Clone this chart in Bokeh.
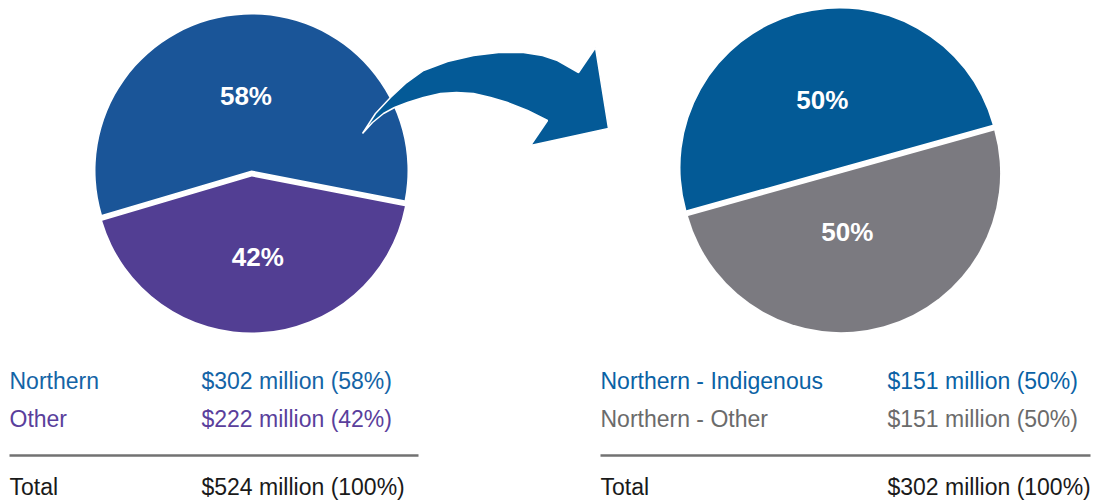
import numpy as np
from bokeh.plotting import figure
from bokeh.models import ColumnDataSource, Range1d
from bokeh.core.properties import value
from bokeh.embed import file_html
from bokeh.resources import INLINE

# ---------------- data ----------------
regions = ["Northern", "Other"]
region_values = [302, 222]
northern_groups = ["Northern - Indigenous", "Northern - Other"]
northern_values = [151, 151]
unit_label = "million"

# ---------------- style ----------------
left_colors = ["#1a5598", "#523e93"]
right_colors = ["#035a96", "#7b7a80"]
left_text_colors = ["#1464a6", "#5a3f9c"]
right_text_colors = ["#0a62a5", "#6b6b6b"]
total_color = "#1a1a1a"
rule_color = "#727272"
arrow_color = "#045a97"
FONT = "Liberation Sans"

W, H = 1094, 500


def Y(py):
    """picture y (downwards) -> data y (upwards)"""
    return H - py


p = figure(width=W, height=H, x_range=Range1d(0, W), y_range=Range1d(0, H),
           output_backend="svg", toolbar_location=None, min_border=0)
p.axis.visible = False
p.grid.visible = False
p.outline_line_color = None
p.background_fill_color = "white"
p.border_fill_color = "white"


def draw_pie(vals, colors, cx, cy, r, start_deg, explode, label_fracs, label_rot):
    vals = np.asarray(vals, dtype=float)
    total = vals.sum()
    cum = np.concatenate([[0], np.cumsum(vals) / total]) * 360.0
    starts = np.radians(start_deg + cum[:-1])
    ends = np.radians(start_deg + cum[1:])
    mids = (starts + ends) / 2
    xs = cx + np.asarray(explode) * np.cos(mids)
    ys = Y(cy) + np.asarray(explode) * np.sin(mids)
    src = ColumnDataSource(dict(x=xs, y=ys, s=starts, e=ends, c=colors))
    p.wedge(x="x", y="y", radius=r, start_angle="s", end_angle="e",
            fill_color="c", line_color=None, source=src)
    la = mids + np.radians(label_rot)
    lx = xs + np.asarray(label_fracs) * r * np.cos(la)
    ly = ys + np.asarray(label_fracs) * r * np.sin(la)
    labels = [f"{round(100 * v / total)}%" for v in vals]
    p.text(x=lx, y=ly, text=labels, text_color="white", text_font=value(FONT),
           text_font_style="bold", text_font_size="26px",
           text_align="center", text_baseline="middle")


def draw_table(names, vals, colors, x_name, x_val, x_end, row_ys, rule_y, total_y):
    total = sum(vals)
    vtexts = [f"${v} {unit_label} ({round(100 * v / total)}%)" for v in vals]
    ys = [Y(y) for y in row_ys]
    fs = "23px"
    p.text(x=[x_name] * len(names), y=ys, text=names, text_color=colors,
           text_font=value(FONT), text_font_size=fs,
           text_align="left", text_baseline="middle")
    p.text(x=[x_val] * len(vals), y=ys, text=vtexts, text_color=colors,
           text_font=value(FONT), text_font_size=fs,
           text_align="left", text_baseline="middle")
    p.line(x=[x_name, x_end], y=[Y(rule_y), Y(rule_y)], line_color=rule_color, line_width=2.5)
    p.text(x=[x_name, x_val], y=[Y(total_y)] * 2,
           text=["Total", f"${total} {unit_label} (100%)"], text_color=total_color,
           text_font=value(FONT), text_font_size=fs,
           text_align="left", text_baseline="middle")


# left pie: all regions
draw_pie(region_values, left_colors, 251, 170, 156, -11, [0, 6], [0.48, 0.52], [1.5, 1.5])
# right pie: northern split
draw_pie(northern_values, right_colors, 839, 167, 159, 15.6, [0, 6], [0.44, 0.37], [-1.4, -9.5])

# curved arrow (decoration, picture coordinates)
arrow_pts = [(362, 133), (375, 113), (390, 97), (405, 83), (423, 70), (447, 61), (473, 55),
             (498, 52), (523, 52), (542, 55), (557, 60), (578, 72), (595, 47), (608, 128),
             (530, 145), (547, 120), (527, 110), (507, 102), (490, 97), (473, 93), (456, 92),
             (440, 93), (423, 97), (407, 102), (394, 107), (383, 113), (372, 122)]
p.patch(x=[a for a, b in arrow_pts], y=[Y(b) for a, b in arrow_pts],
        fill_color=arrow_color, line_color="white", line_width=1.5)

# tables
draw_table(regions, region_values, left_text_colors, 9, 201, 418, [380, 418.5], 455, 486.5)
draw_table(northern_groups, northern_values, right_text_colors, 600, 887, 1090, [380, 418.5], 455, 486.5)

open("out.html", "w").write(file_html(p, INLINE))
